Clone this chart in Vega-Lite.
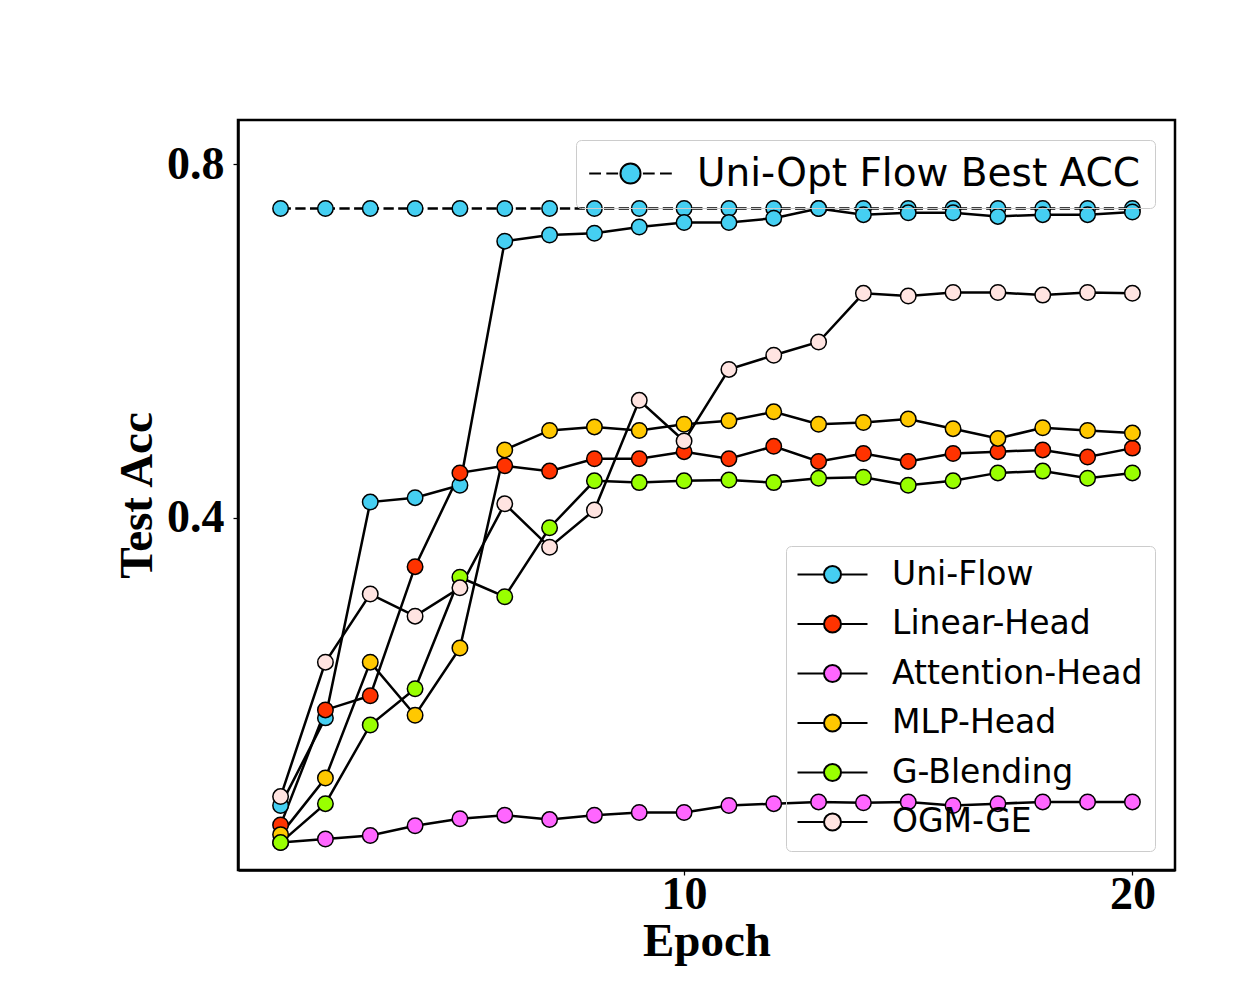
{
  "$schema": "https://vega.github.io/schema/vega-lite/v6.json",
  "autosize": "none",
  "width": 937,
  "height": 750,
  "padding": {"left": 238, "top": 120, "right": 75, "bottom": 130},
  "background": "white",
  "config": {
    "view": {"stroke": "black", "strokeWidth": 2.5},
    "axis": {
      "grid": false,
      "domainColor": "black",
      "domainWidth": 2.5,
      "tickColor": "black",
      "tickSize": 5,
      "tickWidth": 1.25,
      "labelFont": "Liberation Serif",
      "labelFontWeight": "bold",
      "labelFontSize": 46,
      "labelColor": "black",
      "titleFont": "Liberation Serif",
      "titleFontWeight": "bold",
      "titleFontSize": 47,
      "titleColor": "black"
    },
    "legend": {
      "labelFont": "DejaVu Sans",
      "labelFontSize": 33,
      "labelColor": "black",
      "labelLimit": 0,
      "fillColor": "rgba(255,255,255,0)",
      "strokeColor": "#cccccc",
      "strokeWidth": 1,
      "cornerRadius": 5,
      "padding": 10,
      "symbolSize": 400,
      "symbolStrokeColor": "black",
      "symbolStrokeWidth": 2,
      "symbolOpacity": 1
    }
  },
  "data": {
    "values": [
      {"e":1,"a":0.750,"m":"Uni-Opt Flow Best ACC"},{"e":2,"a":0.750,"m":"Uni-Opt Flow Best ACC"},{"e":3,"a":0.750,"m":"Uni-Opt Flow Best ACC"},{"e":4,"a":0.750,"m":"Uni-Opt Flow Best ACC"},{"e":5,"a":0.750,"m":"Uni-Opt Flow Best ACC"},{"e":6,"a":0.750,"m":"Uni-Opt Flow Best ACC"},{"e":7,"a":0.750,"m":"Uni-Opt Flow Best ACC"},{"e":8,"a":0.750,"m":"Uni-Opt Flow Best ACC"},{"e":9,"a":0.750,"m":"Uni-Opt Flow Best ACC"},{"e":10,"a":0.750,"m":"Uni-Opt Flow Best ACC"},{"e":11,"a":0.750,"m":"Uni-Opt Flow Best ACC"},{"e":12,"a":0.750,"m":"Uni-Opt Flow Best ACC"},{"e":13,"a":0.750,"m":"Uni-Opt Flow Best ACC"},{"e":14,"a":0.750,"m":"Uni-Opt Flow Best ACC"},{"e":15,"a":0.750,"m":"Uni-Opt Flow Best ACC"},{"e":16,"a":0.750,"m":"Uni-Opt Flow Best ACC"},{"e":17,"a":0.750,"m":"Uni-Opt Flow Best ACC"},{"e":18,"a":0.750,"m":"Uni-Opt Flow Best ACC"},{"e":19,"a":0.750,"m":"Uni-Opt Flow Best ACC"},{"e":20,"a":0.750,"m":"Uni-Opt Flow Best ACC"},
      {"e":1,"a":0.075,"m":"Uni-Flow"},{"e":2,"a":0.174,"m":"Uni-Flow"},{"e":3,"a":0.418,"m":"Uni-Flow"},{"e":4,"a":0.423,"m":"Uni-Flow"},{"e":5,"a":0.437,"m":"Uni-Flow"},{"e":6,"a":0.713,"m":"Uni-Flow"},{"e":7,"a":0.720,"m":"Uni-Flow"},{"e":8,"a":0.722,"m":"Uni-Flow"},{"e":9,"a":0.729,"m":"Uni-Flow"},{"e":10,"a":0.734,"m":"Uni-Flow"},{"e":11,"a":0.734,"m":"Uni-Flow"},{"e":12,"a":0.739,"m":"Uni-Flow"},{"e":13,"a":0.750,"m":"Uni-Flow"},{"e":14,"a":0.743,"m":"Uni-Flow"},{"e":15,"a":0.745,"m":"Uni-Flow"},{"e":16,"a":0.745,"m":"Uni-Flow"},{"e":17,"a":0.741,"m":"Uni-Flow"},{"e":18,"a":0.743,"m":"Uni-Flow"},{"e":19,"a":0.743,"m":"Uni-Flow"},{"e":20,"a":0.746,"m":"Uni-Flow"},
      {"e":1,"a":0.053,"m":"Linear-Head"},{"e":2,"a":0.183,"m":"Linear-Head"},{"e":3,"a":0.199,"m":"Linear-Head"},{"e":4,"a":0.345,"m":"Linear-Head"},{"e":5,"a":0.451,"m":"Linear-Head"},{"e":6,"a":0.459,"m":"Linear-Head"},{"e":7,"a":0.453,"m":"Linear-Head"},{"e":8,"a":0.467,"m":"Linear-Head"},{"e":9,"a":0.467,"m":"Linear-Head"},{"e":10,"a":0.475,"m":"Linear-Head"},{"e":11,"a":0.467,"m":"Linear-Head"},{"e":12,"a":0.481,"m":"Linear-Head"},{"e":13,"a":0.464,"m":"Linear-Head"},{"e":14,"a":0.473,"m":"Linear-Head"},{"e":15,"a":0.464,"m":"Linear-Head"},{"e":16,"a":0.473,"m":"Linear-Head"},{"e":17,"a":0.475,"m":"Linear-Head"},{"e":18,"a":0.477,"m":"Linear-Head"},{"e":19,"a":0.469,"m":"Linear-Head"},{"e":20,"a":0.479,"m":"Linear-Head"},
      {"e":1,"a":0.033,"m":"Attention-Head"},{"e":2,"a":0.037,"m":"Attention-Head"},{"e":3,"a":0.041,"m":"Attention-Head"},{"e":4,"a":0.052,"m":"Attention-Head"},{"e":5,"a":0.060,"m":"Attention-Head"},{"e":6,"a":0.064,"m":"Attention-Head"},{"e":7,"a":0.059,"m":"Attention-Head"},{"e":8,"a":0.064,"m":"Attention-Head"},{"e":9,"a":0.067,"m":"Attention-Head"},{"e":10,"a":0.067,"m":"Attention-Head"},{"e":11,"a":0.075,"m":"Attention-Head"},{"e":12,"a":0.077,"m":"Attention-Head"},{"e":13,"a":0.079,"m":"Attention-Head"},{"e":14,"a":0.078,"m":"Attention-Head"},{"e":15,"a":0.079,"m":"Attention-Head"},{"e":16,"a":0.075,"m":"Attention-Head"},{"e":17,"a":0.077,"m":"Attention-Head"},{"e":18,"a":0.079,"m":"Attention-Head"},{"e":19,"a":0.079,"m":"Attention-Head"},{"e":20,"a":0.079,"m":"Attention-Head"},
      {"e":1,"a":0.042,"m":"MLP-Head"},{"e":2,"a":0.106,"m":"MLP-Head"},{"e":3,"a":0.237,"m":"MLP-Head"},{"e":4,"a":0.177,"m":"MLP-Head"},{"e":5,"a":0.253,"m":"MLP-Head"},{"e":6,"a":0.477,"m":"MLP-Head"},{"e":7,"a":0.499,"m":"MLP-Head"},{"e":8,"a":0.503,"m":"MLP-Head"},{"e":9,"a":0.499,"m":"MLP-Head"},{"e":10,"a":0.506,"m":"MLP-Head"},{"e":11,"a":0.510,"m":"MLP-Head"},{"e":12,"a":0.520,"m":"MLP-Head"},{"e":13,"a":0.506,"m":"MLP-Head"},{"e":14,"a":0.508,"m":"MLP-Head"},{"e":15,"a":0.512,"m":"MLP-Head"},{"e":16,"a":0.501,"m":"MLP-Head"},{"e":17,"a":0.490,"m":"MLP-Head"},{"e":18,"a":0.502,"m":"MLP-Head"},{"e":19,"a":0.499,"m":"MLP-Head"},{"e":20,"a":0.496,"m":"MLP-Head"},
      {"e":1,"a":0.033,"m":"G-Blending"},{"e":2,"a":0.077,"m":"G-Blending"},{"e":3,"a":0.166,"m":"G-Blending"},{"e":4,"a":0.207,"m":"G-Blending"},{"e":5,"a":0.333,"m":"G-Blending"},{"e":6,"a":0.311,"m":"G-Blending"},{"e":7,"a":0.389,"m":"G-Blending"},{"e":8,"a":0.442,"m":"G-Blending"},{"e":9,"a":0.440,"m":"G-Blending"},{"e":10,"a":0.442,"m":"G-Blending"},{"e":11,"a":0.443,"m":"G-Blending"},{"e":12,"a":0.440,"m":"G-Blending"},{"e":13,"a":0.445,"m":"G-Blending"},{"e":14,"a":0.446,"m":"G-Blending"},{"e":15,"a":0.437,"m":"G-Blending"},{"e":16,"a":0.442,"m":"G-Blending"},{"e":17,"a":0.451,"m":"G-Blending"},{"e":18,"a":0.453,"m":"G-Blending"},{"e":19,"a":0.445,"m":"G-Blending"},{"e":20,"a":0.451,"m":"G-Blending"},
      {"e":1,"a":0.085,"m":"OGM-GE"},{"e":2,"a":0.237,"m":"OGM-GE"},{"e":3,"a":0.314,"m":"OGM-GE"},{"e":4,"a":0.289,"m":"OGM-GE"},{"e":5,"a":0.321,"m":"OGM-GE"},{"e":6,"a":0.416,"m":"OGM-GE"},{"e":7,"a":0.367,"m":"OGM-GE"},{"e":8,"a":0.409,"m":"OGM-GE"},{"e":9,"a":0.533,"m":"OGM-GE"},{"e":10,"a":0.487,"m":"OGM-GE"},{"e":11,"a":0.568,"m":"OGM-GE"},{"e":12,"a":0.584,"m":"OGM-GE"},{"e":13,"a":0.599,"m":"OGM-GE"},{"e":14,"a":0.654,"m":"OGM-GE"},{"e":15,"a":0.651,"m":"OGM-GE"},{"e":16,"a":0.655,"m":"OGM-GE"},{"e":17,"a":0.655,"m":"OGM-GE"},{"e":18,"a":0.652,"m":"OGM-GE"},{"e":19,"a":0.655,"m":"OGM-GE"},{"e":20,"a":0.654,"m":"OGM-GE"}
    ]
  },
  "encoding": {
    "x": {"field": "e", "type": "quantitative", "scale": {"domain": [0.05, 20.95], "nice": false, "zero": false},
          "axis": {"values": [10, 20], "title": "Epoch", "labelPadding": -3, "titlePadding": 1, "format": "d"}},
    "y": {"field": "a", "type": "quantitative", "scale": {"domain": [0.002, 0.85], "nice": false, "zero": false},
          "axis": {"values": [0.4, 0.8], "title": "Test Acc", "format": ".1f", "labelPadding": 9, "titlePadding": 5}}
  },
  "layer": [
    {
      "transform": [{"filter": "datum.m === 'Uni-Opt Flow Best ACC'"}],
      "mark": {"type": "line", "stroke": "black", "strokeWidth": 2.5, "strokeDash": [10.3, 4.4]},
      "encoding": {}
    },
    {
      "transform": [{"filter": "datum.m === 'Uni-Opt Flow Best ACC'"}],
      "mark": {"type": "point", "shape": "circle", "filled": true, "size": 240, "stroke": "black", "strokeWidth": 1.5, "opacity": 1},
      "encoding": {
        "fill": {"field": "m", "type": "nominal",
                 "scale": {"domain": ["Uni-Opt Flow Best ACC"], "range": ["#45CFF2"]},
                 "legend": {"title": null, "orient": "none", "legendX": 338, "legendY": 20,
                            "labelFontSize": 39, "symbolSize": 557, "padding": 14,
                            "symbolType": "M-3.5,0H-2.5M-2.05,0H-1.05M1.05,0H2.05M2.5,0H3.5M0.85,0A0.85,0.85,0,1,1,-0.85,0A0.85,0.85,0,1,1,0.85,0Z",
                            "symbolOffset": 21, "labelOffset": 47}}
      }
    },
    {
      "transform": [{"filter": "datum.m !== 'Uni-Opt Flow Best ACC'"}],
      "mark": {"type": "line", "stroke": "black", "strokeWidth": 2.5},
      "encoding": {"detail": {"field": "m", "type": "nominal"}}
    },
    {
      "transform": [{"filter": "datum.m !== 'Uni-Opt Flow Best ACC'"}],
      "mark": {"type": "point", "shape": "circle", "filled": true, "size": 240, "stroke": "black", "strokeWidth": 1.5, "opacity": 1},
      "encoding": {
        "fill": {"field": "m", "type": "nominal",
                 "scale": {"domain": ["Uni-Flow", "Linear-Head", "Attention-Head", "MLP-Head", "G-Blending", "OGM-GE"],
                           "range": ["#45CFF2", "#FF3300", "#FF66FF", "#FFC800", "#99FF00", "#FFE4E1"]},
                 "legend": {"title": null, "orient": "none", "legendX": 548, "legendY": 426, "padding": 12,
                            "symbolType": "M-3.5,0H-0.85M0.85,0H3.5M0.85,0A0.85,0.85,0,1,1,-0.85,0A0.85,0.85,0,1,1,0.85,0Z",
                            "symbolOffset": 18, "labelOffset": 43, "rowPadding": 15.5}}
      }
    }
  ],
  "resolve": {"scale": {"fill": "independent"}, "legend": {"fill": "independent"}}
}
